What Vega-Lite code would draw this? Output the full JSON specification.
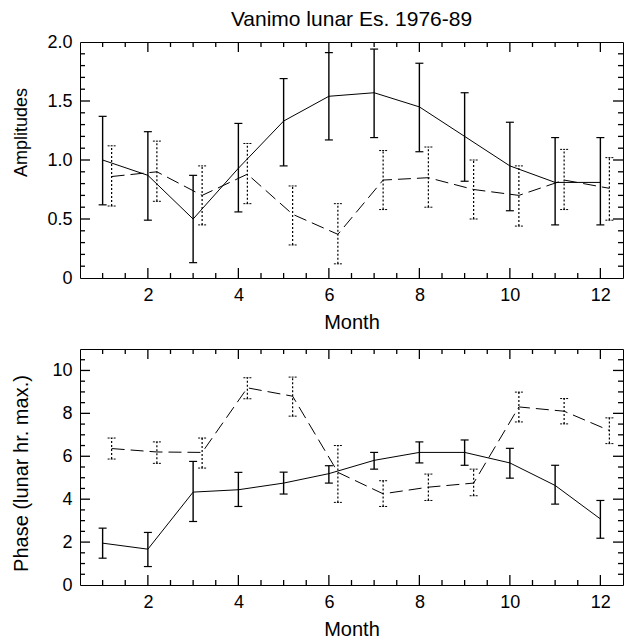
{
  "$schema": "https://vega.github.io/schema/vega-lite/v6.json",
  "padding": {"left": 10, "top": 8, "right": 5, "bottom": 5},
  "background": "white",
  "spacing": 12,
  "datasets": {
    "d": [
      {"panel": "amp", "series": "A", "month": 1, "v": 1.00, "lo": 0.62, "hi": 1.37},
      {"panel": "amp", "series": "A", "month": 2, "v": 0.87, "lo": 0.49, "hi": 1.24},
      {"panel": "amp", "series": "A", "month": 3, "v": 0.50, "lo": 0.13, "hi": 0.87},
      {"panel": "amp", "series": "A", "month": 4, "v": 0.93, "lo": 0.56, "hi": 1.31},
      {"panel": "amp", "series": "A", "month": 5, "v": 1.33, "lo": 0.95, "hi": 1.69},
      {"panel": "amp", "series": "A", "month": 6, "v": 1.54, "lo": 1.17, "hi": 1.91},
      {"panel": "amp", "series": "A", "month": 7, "v": 1.57, "lo": 1.19, "hi": 1.94},
      {"panel": "amp", "series": "A", "month": 8, "v": 1.45, "lo": 1.07, "hi": 1.82},
      {"panel": "amp", "series": "A", "month": 9, "v": 1.20, "lo": 0.82, "hi": 1.57},
      {"panel": "amp", "series": "A", "month": 10, "v": 0.95, "lo": 0.57, "hi": 1.32},
      {"panel": "amp", "series": "A", "month": 11, "v": 0.81, "lo": 0.45, "hi": 1.19},
      {"panel": "amp", "series": "A", "month": 12, "v": 0.81, "lo": 0.45, "hi": 1.19},
      {"panel": "amp", "series": "B", "month": 1, "v": 0.86, "lo": 0.61, "hi": 1.12},
      {"panel": "amp", "series": "B", "month": 2, "v": 0.90, "lo": 0.65, "hi": 1.16},
      {"panel": "amp", "series": "B", "month": 3, "v": 0.70, "lo": 0.45, "hi": 0.95},
      {"panel": "amp", "series": "B", "month": 4, "v": 0.88, "lo": 0.63, "hi": 1.14},
      {"panel": "amp", "series": "B", "month": 5, "v": 0.54, "lo": 0.28, "hi": 0.78},
      {"panel": "amp", "series": "B", "month": 6, "v": 0.37, "lo": 0.12, "hi": 0.63},
      {"panel": "amp", "series": "B", "month": 7, "v": 0.83, "lo": 0.58, "hi": 1.08},
      {"panel": "amp", "series": "B", "month": 8, "v": 0.85, "lo": 0.60, "hi": 1.11},
      {"panel": "amp", "series": "B", "month": 9, "v": 0.75, "lo": 0.50, "hi": 1.00},
      {"panel": "amp", "series": "B", "month": 10, "v": 0.70, "lo": 0.44, "hi": 0.95},
      {"panel": "amp", "series": "B", "month": 11, "v": 0.83, "lo": 0.58, "hi": 1.09},
      {"panel": "amp", "series": "B", "month": 12, "v": 0.76, "lo": 0.49, "hi": 1.02},
      {"panel": "phase", "series": "A", "month": 1, "v": 1.95, "lo": 1.25, "hi": 2.65},
      {"panel": "phase", "series": "A", "month": 2, "v": 1.67, "lo": 0.86, "hi": 2.45},
      {"panel": "phase", "series": "A", "month": 3, "v": 4.33, "lo": 2.96, "hi": 5.76},
      {"panel": "phase", "series": "A", "month": 4, "v": 4.44, "lo": 3.66, "hi": 5.25},
      {"panel": "phase", "series": "A", "month": 5, "v": 4.75, "lo": 4.24, "hi": 5.26},
      {"panel": "phase", "series": "A", "month": 6, "v": 5.19, "lo": 4.75, "hi": 5.56},
      {"panel": "phase", "series": "A", "month": 7, "v": 5.81, "lo": 5.40, "hi": 6.18},
      {"panel": "phase", "series": "A", "month": 8, "v": 6.18, "lo": 5.69, "hi": 6.67},
      {"panel": "phase", "series": "A", "month": 9, "v": 6.18, "lo": 5.58, "hi": 6.76},
      {"panel": "phase", "series": "A", "month": 10, "v": 5.69, "lo": 4.98, "hi": 6.37},
      {"panel": "phase", "series": "A", "month": 11, "v": 4.64, "lo": 3.77, "hi": 5.58},
      {"panel": "phase", "series": "A", "month": 12, "v": 3.08, "lo": 2.18, "hi": 3.94},
      {"panel": "phase", "series": "B", "month": 1, "v": 6.36, "lo": 5.87, "hi": 6.85},
      {"panel": "phase", "series": "B", "month": 2, "v": 6.20, "lo": 5.67, "hi": 6.67},
      {"panel": "phase", "series": "B", "month": 3, "v": 6.18, "lo": 5.45, "hi": 6.85},
      {"panel": "phase", "series": "B", "month": 4, "v": 9.19, "lo": 8.68, "hi": 9.66},
      {"panel": "phase", "series": "B", "month": 5, "v": 8.80, "lo": 7.87, "hi": 9.69},
      {"panel": "phase", "series": "B", "month": 6, "v": 5.25, "lo": 3.85, "hi": 6.50},
      {"panel": "phase", "series": "B", "month": 7, "v": 4.25, "lo": 3.66, "hi": 4.86},
      {"panel": "phase", "series": "B", "month": 8, "v": 4.56, "lo": 3.94, "hi": 5.17},
      {"panel": "phase", "series": "B", "month": 9, "v": 4.75, "lo": 4.16, "hi": 5.40},
      {"panel": "phase", "series": "B", "month": 10, "v": 8.30, "lo": 7.60, "hi": 8.99},
      {"panel": "phase", "series": "B", "month": 11, "v": 8.10, "lo": 7.51, "hi": 8.69},
      {"panel": "phase", "series": "B", "month": 12, "v": 7.20, "lo": 6.59, "hi": 7.79}
    ],
    "tk": [
      {"panel": "amp", "axis": "x", "t": 1, "major": false}, {"panel": "amp", "axis": "x", "t": 1.5, "major": false},
      {"panel": "amp", "axis": "x", "t": 2, "major": true}, {"panel": "amp", "axis": "x", "t": 2.5, "major": false},
      {"panel": "amp", "axis": "x", "t": 3, "major": false}, {"panel": "amp", "axis": "x", "t": 3.5, "major": false},
      {"panel": "amp", "axis": "x", "t": 4, "major": true}, {"panel": "amp", "axis": "x", "t": 4.5, "major": false},
      {"panel": "amp", "axis": "x", "t": 5, "major": false}, {"panel": "amp", "axis": "x", "t": 5.5, "major": false},
      {"panel": "amp", "axis": "x", "t": 6, "major": true}, {"panel": "amp", "axis": "x", "t": 6.5, "major": false},
      {"panel": "amp", "axis": "x", "t": 7, "major": false}, {"panel": "amp", "axis": "x", "t": 7.5, "major": false},
      {"panel": "amp", "axis": "x", "t": 8, "major": true}, {"panel": "amp", "axis": "x", "t": 8.5, "major": false},
      {"panel": "amp", "axis": "x", "t": 9, "major": false}, {"panel": "amp", "axis": "x", "t": 9.5, "major": false},
      {"panel": "amp", "axis": "x", "t": 10, "major": true}, {"panel": "amp", "axis": "x", "t": 10.5, "major": false},
      {"panel": "amp", "axis": "x", "t": 11, "major": false}, {"panel": "amp", "axis": "x", "t": 11.5, "major": false},
      {"panel": "amp", "axis": "x", "t": 12, "major": true},
      {"panel": "amp", "axis": "y", "t": 0.1, "major": false}, {"panel": "amp", "axis": "y", "t": 0.2, "major": false},
      {"panel": "amp", "axis": "y", "t": 0.3, "major": false}, {"panel": "amp", "axis": "y", "t": 0.4, "major": false},
      {"panel": "amp", "axis": "y", "t": 0.5, "major": true}, {"panel": "amp", "axis": "y", "t": 0.6, "major": false},
      {"panel": "amp", "axis": "y", "t": 0.7, "major": false}, {"panel": "amp", "axis": "y", "t": 0.8, "major": false},
      {"panel": "amp", "axis": "y", "t": 0.9, "major": false}, {"panel": "amp", "axis": "y", "t": 1.0, "major": true},
      {"panel": "amp", "axis": "y", "t": 1.1, "major": false}, {"panel": "amp", "axis": "y", "t": 1.2, "major": false},
      {"panel": "amp", "axis": "y", "t": 1.3, "major": false}, {"panel": "amp", "axis": "y", "t": 1.4, "major": false},
      {"panel": "amp", "axis": "y", "t": 1.5, "major": true}, {"panel": "amp", "axis": "y", "t": 1.6, "major": false},
      {"panel": "amp", "axis": "y", "t": 1.7, "major": false}, {"panel": "amp", "axis": "y", "t": 1.8, "major": false},
      {"panel": "amp", "axis": "y", "t": 1.9, "major": false},
      {"panel": "phase", "axis": "x", "t": 1, "major": false}, {"panel": "phase", "axis": "x", "t": 1.5, "major": false},
      {"panel": "phase", "axis": "x", "t": 2, "major": true}, {"panel": "phase", "axis": "x", "t": 2.5, "major": false},
      {"panel": "phase", "axis": "x", "t": 3, "major": false}, {"panel": "phase", "axis": "x", "t": 3.5, "major": false},
      {"panel": "phase", "axis": "x", "t": 4, "major": true}, {"panel": "phase", "axis": "x", "t": 4.5, "major": false},
      {"panel": "phase", "axis": "x", "t": 5, "major": false}, {"panel": "phase", "axis": "x", "t": 5.5, "major": false},
      {"panel": "phase", "axis": "x", "t": 6, "major": true}, {"panel": "phase", "axis": "x", "t": 6.5, "major": false},
      {"panel": "phase", "axis": "x", "t": 7, "major": false}, {"panel": "phase", "axis": "x", "t": 7.5, "major": false},
      {"panel": "phase", "axis": "x", "t": 8, "major": true}, {"panel": "phase", "axis": "x", "t": 8.5, "major": false},
      {"panel": "phase", "axis": "x", "t": 9, "major": false}, {"panel": "phase", "axis": "x", "t": 9.5, "major": false},
      {"panel": "phase", "axis": "x", "t": 10, "major": true}, {"panel": "phase", "axis": "x", "t": 10.5, "major": false},
      {"panel": "phase", "axis": "x", "t": 11, "major": false}, {"panel": "phase", "axis": "x", "t": 11.5, "major": false},
      {"panel": "phase", "axis": "x", "t": 12, "major": true},
      {"panel": "phase", "axis": "y", "t": 0.5, "major": false}, {"panel": "phase", "axis": "y", "t": 1, "major": false},
      {"panel": "phase", "axis": "y", "t": 1.5, "major": false}, {"panel": "phase", "axis": "y", "t": 2, "major": true},
      {"panel": "phase", "axis": "y", "t": 2.5, "major": false}, {"panel": "phase", "axis": "y", "t": 3, "major": false},
      {"panel": "phase", "axis": "y", "t": 3.5, "major": false}, {"panel": "phase", "axis": "y", "t": 4, "major": true},
      {"panel": "phase", "axis": "y", "t": 4.5, "major": false}, {"panel": "phase", "axis": "y", "t": 5, "major": false},
      {"panel": "phase", "axis": "y", "t": 5.5, "major": false}, {"panel": "phase", "axis": "y", "t": 6, "major": true},
      {"panel": "phase", "axis": "y", "t": 6.5, "major": false}, {"panel": "phase", "axis": "y", "t": 7, "major": false},
      {"panel": "phase", "axis": "y", "t": 7.5, "major": false}, {"panel": "phase", "axis": "y", "t": 8, "major": true},
      {"panel": "phase", "axis": "y", "t": 8.5, "major": false}, {"panel": "phase", "axis": "y", "t": 9, "major": false},
      {"panel": "phase", "axis": "y", "t": 9.5, "major": false}, {"panel": "phase", "axis": "y", "t": 10, "major": true},
      {"panel": "phase", "axis": "y", "t": 10.5, "major": false}
    ]
  },
  "config": {
    "font": "Liberation Sans",
    "view": {"stroke": "black", "strokeWidth": 1},
    "axis": {"domain": false, "grid": false, "ticks": false, "labelColor": "black", "titleColor": "black", "labelFontSize": 18, "titleFontSize": 19, "titleFontWeight": "normal", "labelOverlap": false, "labelFlush": false},
    "rule": {"color": "black", "strokeWidth": 1},
    "point": {"filled": false, "stroke": "black", "strokeWidth": 1.3, "opacity": 1}
  },
  "vconcat": [
    {
      "width": 543, "height": 236,
      "title": {"text": "Vanimo lunar Es. 1976-89", "fontSize": 21, "fontWeight": "normal", "anchor": "middle", "offset": 3, "color": "black"},
      "layer": [
        {
          "data": {"name": "d"},
          "transform": [{"filter": "datum.panel === 'amp' && datum.series === 'A'"}],
          "mark": {"type": "line", "color": "black", "strokeWidth": 1},
          "encoding": {
            "x": {"field": "month", "type": "quantitative", "scale": {"domain": [0.5, 12.5], "nice": false, "zero": false},
              "axis": {"orient": "bottom", "values": [2,4,6,8,10,12], "format": "d", "labelPadding": 8,
                "title": "Month", "titleFontSize": 20, "titleBaseline": "middle", "titleY": 44}},
            "y": {"field": "v", "type": "quantitative", "scale": {"domain": [0, 2], "nice": false},
              "axis": {"orient": "left", "values": [0,0.5,1,1.5,2],
                "labelExpr": "datum.value === 0 ? '0' : format(datum.value, '.1f')",
                "labelPadding": 8, "title": "Amplitudes", "titleFontSize": 18, "titleBaseline": "middle", "titleX": -59, "titleY": 90}}
          }
        },
        {
          "data": {"name": "d"},
          "transform": [{"filter": "datum.panel === 'amp' && datum.series === 'B'"}],
          "mark": {"type": "line", "color": "black", "strokeWidth": 1, "strokeDash": [13, 6], "xOffset": 9},
          "encoding": {"x": {"field": "month", "type": "quantitative"}, "y": {"field": "v", "type": "quantitative"}}
        },
        {
          "data": {"name": "d"},
          "transform": [{"filter": "datum.panel === 'amp' && datum.series === 'A'"}],
          "mark": {"type": "rule", "strokeWidth": 1.4},
          "encoding": {"x": {"field": "month", "type": "quantitative"}, "y": {"field": "lo", "type": "quantitative"}, "y2": {"field": "hi"}}
        },
        {
          "data": {"name": "d"},
          "transform": [{"filter": "datum.panel === 'amp' && datum.series === 'A'"}, {"fold": ["lo", "hi"], "as": ["end", "ev"]}],
          "mark": {"type": "rule", "strokeWidth": 1.2, "xOffset": -4, "x2Offset": 4},
          "encoding": {"x": {"field": "month", "type": "quantitative"}, "x2": {"field": "month"}, "y": {"field": "ev", "type": "quantitative"}}
        },
        {
          "data": {"name": "d"},
          "transform": [{"filter": "datum.panel === 'amp' && datum.series === 'B'"}],
          "mark": {"type": "rule", "strokeWidth": 1.2, "strokeDash": [2, 2], "xOffset": 9},
          "encoding": {"x": {"field": "month", "type": "quantitative"}, "y": {"field": "lo", "type": "quantitative"}, "y2": {"field": "hi"}}
        },
        {
          "data": {"name": "d"},
          "transform": [{"filter": "datum.panel === 'amp' && datum.series === 'B'"}, {"fold": ["lo", "hi"], "as": ["end", "ev"]}],
          "mark": {"type": "rule", "strokeWidth": 1, "strokeDash": [2, 1], "xOffset": 5, "x2Offset": 13},
          "encoding": {"x": {"field": "month", "type": "quantitative"}, "x2": {"field": "month"}, "y": {"field": "ev", "type": "quantitative"}}
        },
        {
          "data": {"name": "tk"},
          "transform": [{"filter": "datum.panel === 'amp' && datum.axis === 'x'"}],
          "mark": {"type": "point", "shape": "M0,0L0,-2"},
          "encoding": {"x": {"field": "t", "type": "quantitative"}, "y": {"datum": 0, "type": "quantitative"},
            "size": {"condition": {"test": "datum.major", "value": 100}, "value": 25}}
        },
        {
          "data": {"name": "tk"},
          "transform": [{"filter": "datum.panel === 'amp' && datum.axis === 'x'"}],
          "mark": {"type": "point", "shape": "M0,0L0,2"},
          "encoding": {"x": {"field": "t", "type": "quantitative"}, "y": {"datum": 2, "type": "quantitative"},
            "size": {"condition": {"test": "datum.major", "value": 100}, "value": 25}}
        },
        {
          "data": {"name": "tk"},
          "transform": [{"filter": "datum.panel === 'amp' && datum.axis === 'y'"}],
          "mark": {"type": "point", "shape": "M0,0L2,0"},
          "encoding": {"y": {"field": "t", "type": "quantitative"}, "x": {"datum": 0.5, "type": "quantitative"},
            "size": {"condition": {"test": "datum.major", "value": 100}, "value": 25}}
        },
        {
          "data": {"name": "tk"},
          "transform": [{"filter": "datum.panel === 'amp' && datum.axis === 'y'"}],
          "mark": {"type": "point", "shape": "M0,0L-2,0"},
          "encoding": {"y": {"field": "t", "type": "quantitative"}, "x": {"datum": 12.5, "type": "quantitative"},
            "size": {"condition": {"test": "datum.major", "value": 100}, "value": 25}}
        }
      ]
    },
    {
      "width": 543, "height": 236,
      "layer": [
        {
          "data": {"name": "d"},
          "transform": [{"filter": "datum.panel === 'phase' && datum.series === 'A'"}],
          "mark": {"type": "line", "color": "black", "strokeWidth": 1},
          "encoding": {
            "x": {"field": "month", "type": "quantitative", "scale": {"domain": [0.5, 12.5], "nice": false, "zero": false},
              "axis": {"orient": "bottom", "values": [2,4,6,8,10,12], "format": "d", "labelPadding": 8,
                "title": "Month", "titleFontSize": 20, "titleBaseline": "middle", "titleY": 44}},
            "y": {"field": "v", "type": "quantitative", "scale": {"domain": [0, 11], "nice": false},
              "axis": {"orient": "left", "values": [0,2,4,6,8,10], "format": "d",
                "labelPadding": 8, "title": "Phase (lunar hr. max.)", "titleFontSize": 20, "titleBaseline": "middle", "titleX": -59, "titleY": 124}}
          }
        },
        {
          "data": {"name": "d"},
          "transform": [{"filter": "datum.panel === 'phase' && datum.series === 'B'"}],
          "mark": {"type": "line", "color": "black", "strokeWidth": 1, "strokeDash": [13, 6], "xOffset": 9},
          "encoding": {"x": {"field": "month", "type": "quantitative"}, "y": {"field": "v", "type": "quantitative"}}
        },
        {
          "data": {"name": "d"},
          "transform": [{"filter": "datum.panel === 'phase' && datum.series === 'A'"}],
          "mark": {"type": "rule", "strokeWidth": 1.4},
          "encoding": {"x": {"field": "month", "type": "quantitative"}, "y": {"field": "lo", "type": "quantitative"}, "y2": {"field": "hi"}}
        },
        {
          "data": {"name": "d"},
          "transform": [{"filter": "datum.panel === 'phase' && datum.series === 'A'"}, {"fold": ["lo", "hi"], "as": ["end", "ev"]}],
          "mark": {"type": "rule", "strokeWidth": 1.2, "xOffset": -4, "x2Offset": 4},
          "encoding": {"x": {"field": "month", "type": "quantitative"}, "x2": {"field": "month"}, "y": {"field": "ev", "type": "quantitative"}}
        },
        {
          "data": {"name": "d"},
          "transform": [{"filter": "datum.panel === 'phase' && datum.series === 'B'"}],
          "mark": {"type": "rule", "strokeWidth": 1.2, "strokeDash": [2, 2], "xOffset": 9},
          "encoding": {"x": {"field": "month", "type": "quantitative"}, "y": {"field": "lo", "type": "quantitative"}, "y2": {"field": "hi"}}
        },
        {
          "data": {"name": "d"},
          "transform": [{"filter": "datum.panel === 'phase' && datum.series === 'B'"}, {"fold": ["lo", "hi"], "as": ["end", "ev"]}],
          "mark": {"type": "rule", "strokeWidth": 1, "strokeDash": [2, 1], "xOffset": 5, "x2Offset": 13},
          "encoding": {"x": {"field": "month", "type": "quantitative"}, "x2": {"field": "month"}, "y": {"field": "ev", "type": "quantitative"}}
        },
        {
          "data": {"name": "tk"},
          "transform": [{"filter": "datum.panel === 'phase' && datum.axis === 'x'"}],
          "mark": {"type": "point", "shape": "M0,0L0,-2"},
          "encoding": {"x": {"field": "t", "type": "quantitative"}, "y": {"datum": 0, "type": "quantitative"},
            "size": {"condition": {"test": "datum.major", "value": 100}, "value": 25}}
        },
        {
          "data": {"name": "tk"},
          "transform": [{"filter": "datum.panel === 'phase' && datum.axis === 'x'"}],
          "mark": {"type": "point", "shape": "M0,0L0,2"},
          "encoding": {"x": {"field": "t", "type": "quantitative"}, "y": {"datum": 11, "type": "quantitative"},
            "size": {"condition": {"test": "datum.major", "value": 100}, "value": 25}}
        },
        {
          "data": {"name": "tk"},
          "transform": [{"filter": "datum.panel === 'phase' && datum.axis === 'y'"}],
          "mark": {"type": "point", "shape": "M0,0L2,0"},
          "encoding": {"y": {"field": "t", "type": "quantitative"}, "x": {"datum": 0.5, "type": "quantitative"},
            "size": {"condition": {"test": "datum.major", "value": 100}, "value": 25}}
        },
        {
          "data": {"name": "tk"},
          "transform": [{"filter": "datum.panel === 'phase' && datum.axis === 'y'"}],
          "mark": {"type": "point", "shape": "M0,0L-2,0"},
          "encoding": {"y": {"field": "t", "type": "quantitative"}, "x": {"datum": 12.5, "type": "quantitative"},
            "size": {"condition": {"test": "datum.major", "value": 100}, "value": 25}}
        }
      ]
    }
  ]
}
